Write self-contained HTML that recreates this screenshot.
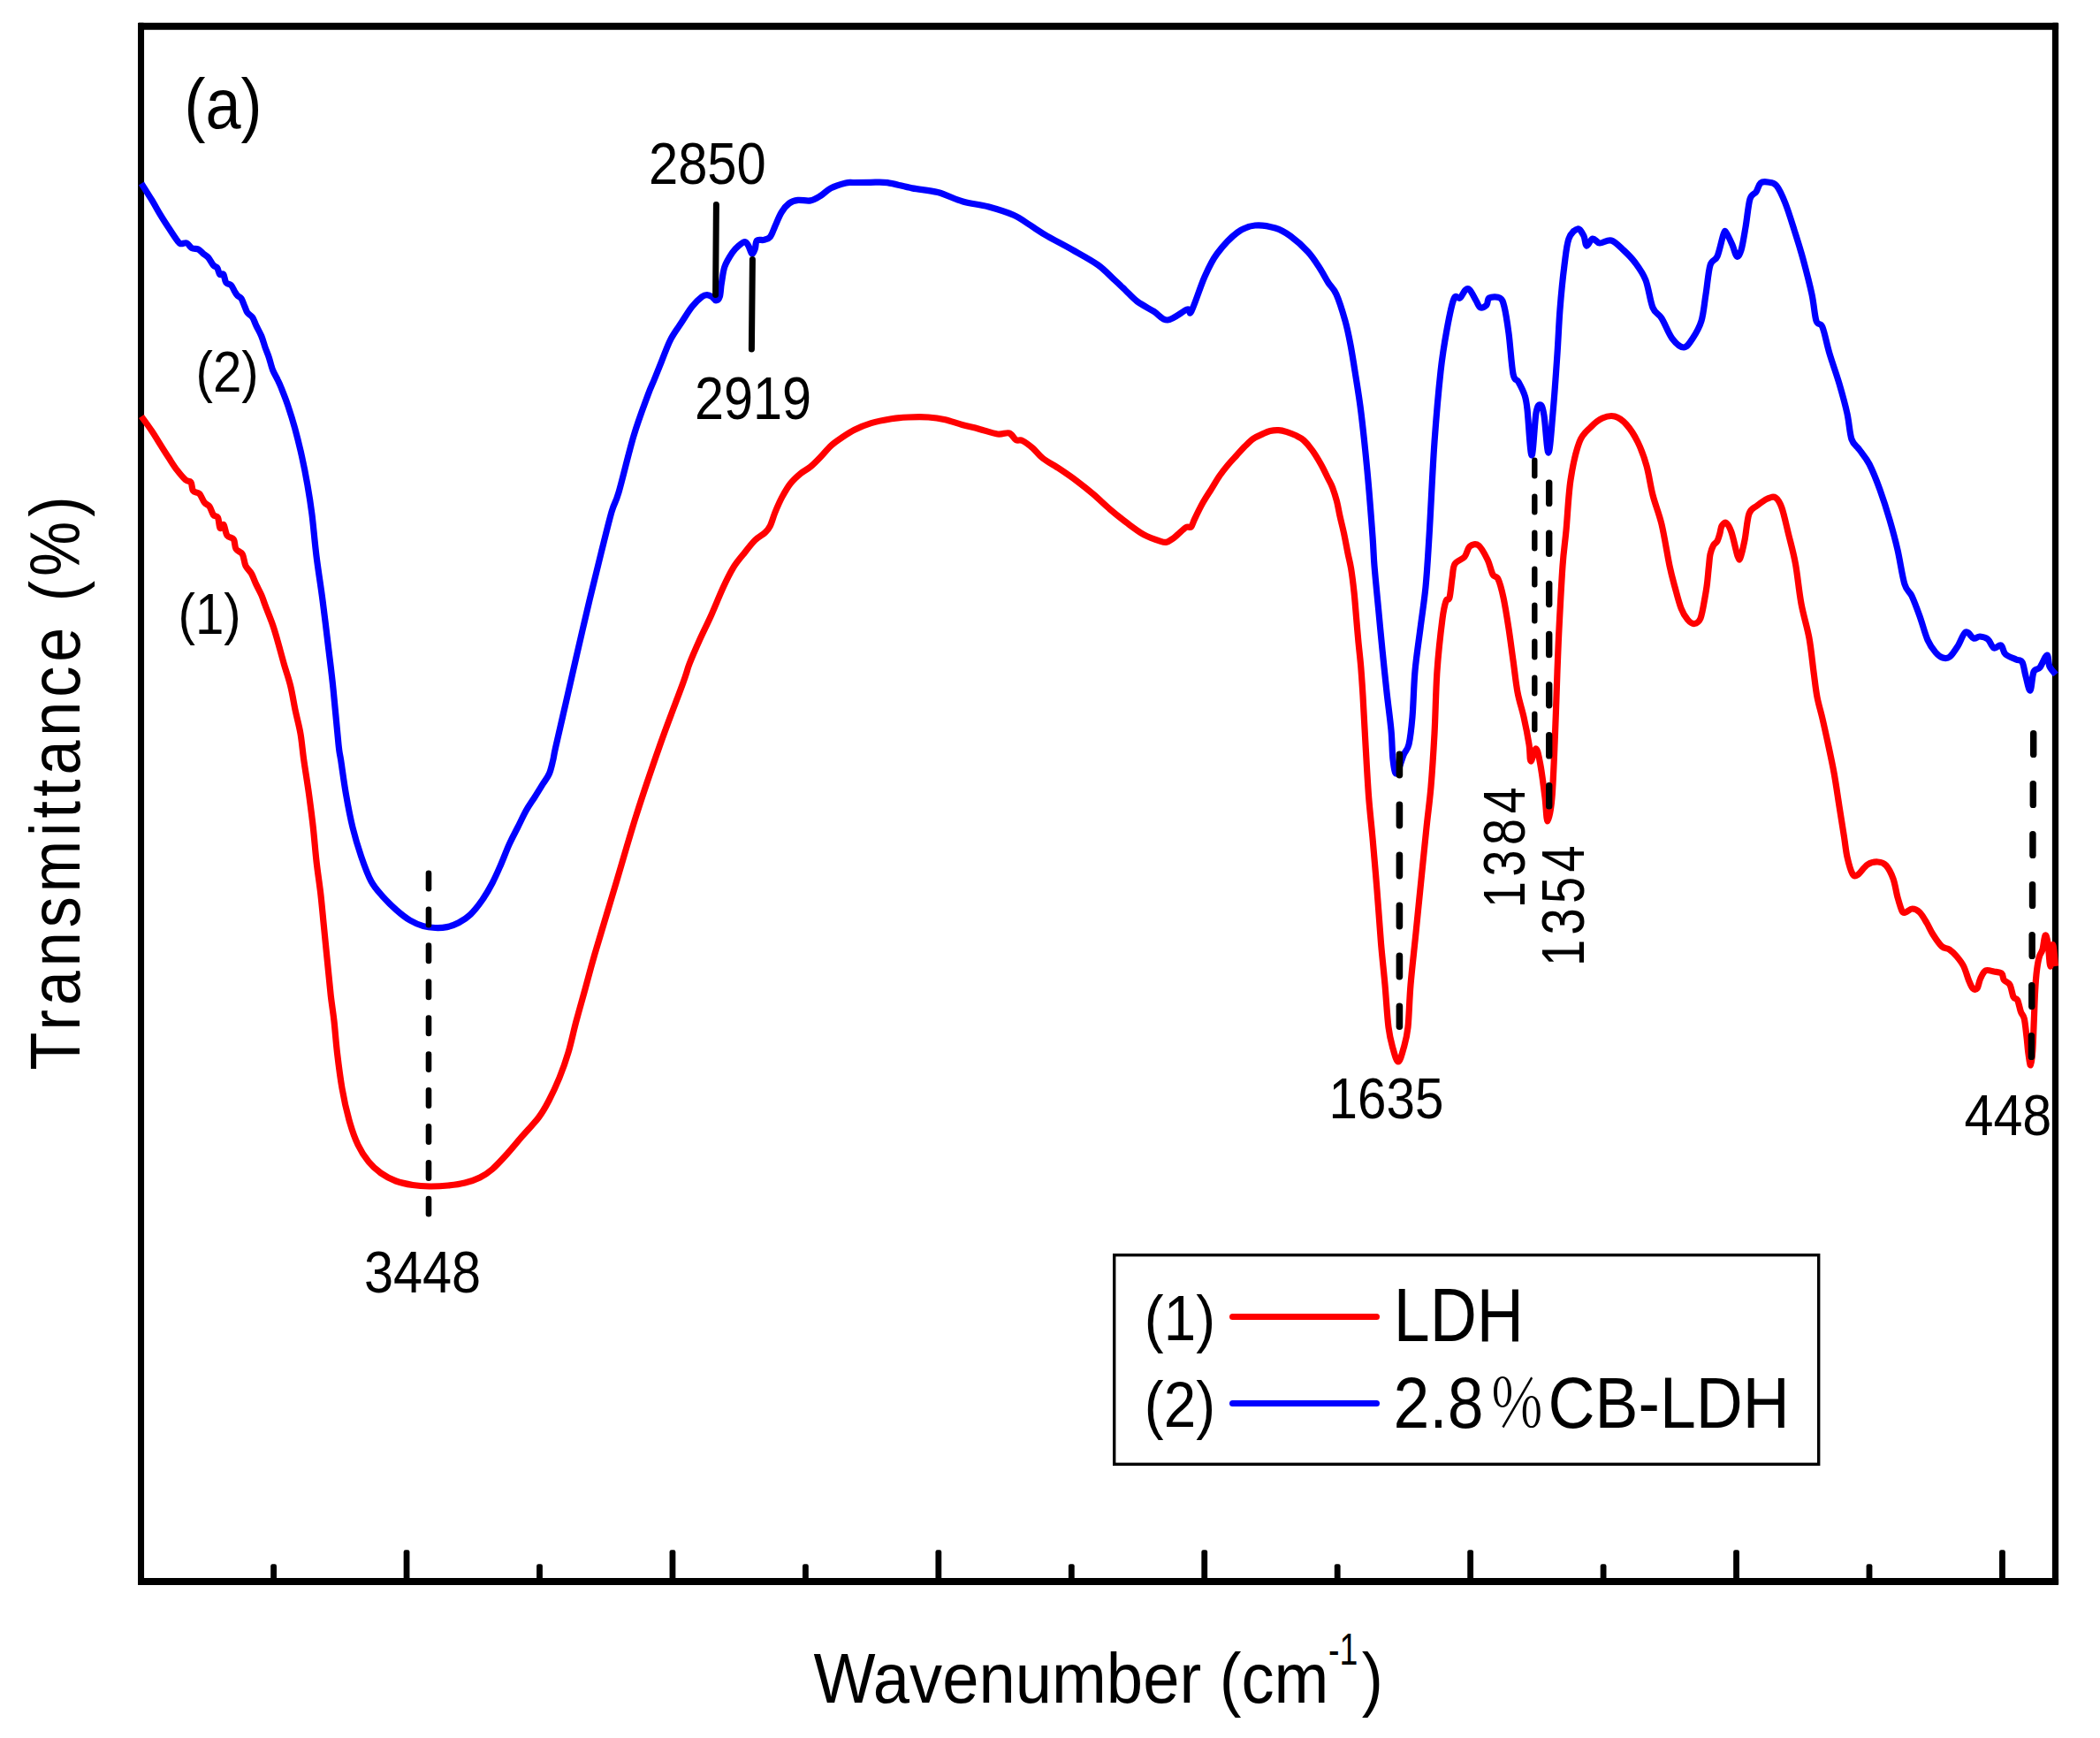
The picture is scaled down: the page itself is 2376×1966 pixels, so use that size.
<!DOCTYPE html>
<html lang="en"><head><meta charset="utf-8"><title>FTIR spectra</title>
<style>html,body{margin:0;padding:0;background:#fff}body{width:2376px;height:1966px;overflow:hidden}</style>
</head><body>
<svg width="2376" height="1966" viewBox="0 0 2376 1966" style="display:block">
<rect width="2376" height="1966" fill="#fff"/>
<g fill="#000">
<rect x="156" y="25.7" width="2173.1" height="8.1" rx="1"/>
<rect x="156" y="1785" width="2173.1" height="8" rx="1"/>
<rect x="156" y="25.7" width="7.05" height="1767.3" rx="1"/>
<rect x="2321.9" y="25.7" width="7.2" height="1767.3" rx="1"/>
<rect x="306.20" y="1769.3" width="6.8" height="20.7" rx="2.2"/>
<rect x="456.65" y="1753.3" width="6.8" height="36.7" rx="2.2"/>
<rect x="607.10" y="1769.3" width="6.8" height="20.7" rx="2.2"/>
<rect x="757.55" y="1753.3" width="6.8" height="36.7" rx="2.2"/>
<rect x="908.00" y="1769.3" width="6.8" height="20.7" rx="2.2"/>
<rect x="1058.45" y="1753.3" width="6.8" height="36.7" rx="2.2"/>
<rect x="1208.90" y="1769.3" width="6.8" height="20.7" rx="2.2"/>
<rect x="1359.35" y="1753.3" width="6.8" height="36.7" rx="2.2"/>
<rect x="1509.80" y="1769.3" width="6.8" height="20.7" rx="2.2"/>
<rect x="1660.25" y="1753.3" width="6.8" height="36.7" rx="2.2"/>
<rect x="1810.70" y="1769.3" width="6.8" height="20.7" rx="2.2"/>
<rect x="1961.15" y="1753.3" width="6.8" height="36.7" rx="2.2"/>
<rect x="2111.60" y="1769.3" width="6.8" height="20.7" rx="2.2"/>
<rect x="2262.05" y="1753.3" width="6.8" height="36.7" rx="2.2"/>
</g>
<rect x="1260.7" y="1419.7" width="797" height="236.6" stroke-width="3.4" stroke="#000" fill="none"/>
<g fill="none" stroke-linecap="butt" stroke-linejoin="round" stroke-width="7.2">
<path stroke="#f00" d="M160.0 471.0C161.9 473.7 167.8 481.7 171.4 487.0C175.0 492.3 178.1 497.6 181.4 502.9C184.7 508.2 188.3 513.9 191.4 518.6C194.5 523.4 196.9 527.4 200.0 531.4C203.1 535.4 207.3 540.5 210.0 542.9C212.7 545.2 214.6 543.5 216.0 545.5C217.4 547.5 216.9 553.0 218.5 555.2C220.1 557.4 223.5 556.4 225.7 558.6C227.8 560.8 229.5 566.2 231.4 568.6C233.3 571.0 235.3 570.6 237.0 572.9C238.7 575.2 239.8 580.4 241.4 582.5C243.0 584.6 245.2 583.0 246.5 585.5C247.8 588.0 247.9 596.2 249.0 597.5C250.1 598.8 251.7 592.1 253.0 593.5C254.3 594.9 255.1 603.0 257.0 605.7C258.9 608.5 262.6 607.5 264.3 610.0C266.0 612.5 265.3 618.2 267.0 621.0C268.7 623.8 272.5 623.8 274.3 627.0C276.1 630.2 276.2 636.4 277.9 640.0C279.6 643.6 282.3 645.0 284.3 648.6C286.3 652.2 288.1 657.4 290.0 661.4C291.9 665.4 294.0 669.0 295.7 672.9C297.4 676.8 297.9 678.8 300.0 684.5C302.1 690.2 306.2 700.1 308.6 707.0C311.0 713.9 312.2 718.3 314.3 725.7C316.4 733.1 319.0 743.1 321.4 751.4C323.8 759.7 326.5 766.9 328.6 775.7C330.8 784.5 332.4 795.2 334.3 804.3C336.2 813.3 338.4 820.7 340.0 830.0C341.6 839.3 342.2 848.7 343.8 860.0C345.4 871.3 347.8 885.3 349.5 898.0C351.2 910.7 352.9 923.3 354.3 936.0C355.7 948.7 356.6 961.3 358.0 974.0C359.4 986.7 361.4 999.2 362.9 1012.0C364.3 1024.8 365.4 1037.7 366.7 1050.5C368.0 1063.3 369.2 1075.9 370.5 1088.6C371.8 1101.3 373.1 1115.6 374.3 1126.7C375.6 1137.8 376.8 1144.3 378.0 1155.0C379.2 1165.7 380.0 1178.3 381.5 1191.0C383.0 1203.7 384.8 1218.3 387.0 1231.0C389.2 1243.7 392.0 1256.3 395.0 1267.0C398.0 1277.7 401.3 1287.2 405.0 1295.0C408.7 1302.8 412.7 1308.7 417.0 1314.0C421.3 1319.3 425.8 1323.3 431.0 1327.0C436.2 1330.7 442.0 1333.8 448.0 1336.0C454.0 1338.2 460.7 1339.5 467.0 1340.5C473.3 1341.5 479.3 1341.9 486.0 1342.0C492.7 1342.1 500.3 1341.7 507.0 1341.0C513.7 1340.3 520.0 1339.5 526.0 1338.0C532.0 1336.5 537.8 1334.6 543.0 1332.0C548.2 1329.4 551.8 1327.1 557.0 1322.6C562.2 1318.1 568.4 1311.2 574.0 1305.0C579.6 1298.8 584.6 1292.5 590.5 1285.7C596.4 1278.9 604.4 1270.8 609.5 1264.0C614.6 1257.2 617.1 1252.5 621.0 1245.0C624.9 1237.5 629.3 1228.1 633.0 1219.0C636.7 1209.9 639.8 1201.2 643.0 1190.5C646.2 1179.8 648.8 1166.9 652.0 1155.0C655.2 1143.1 658.5 1131.7 662.0 1119.0C665.5 1106.3 667.2 1099.0 673.0 1079.0C678.8 1059.0 689.2 1025.2 697.0 999.0C704.8 972.8 711.7 948.2 720.0 922.0C728.3 895.8 738.2 867.0 747.0 842.0C755.8 817.0 767.5 787.2 773.0 772.0C778.5 756.8 776.9 759.0 780.0 751.0C783.1 743.0 787.3 733.5 791.4 724.3C795.5 715.1 800.4 705.6 804.8 695.7C809.2 685.8 813.9 673.9 818.0 665.0C822.1 656.1 825.7 648.7 829.5 642.4C833.3 636.1 836.9 632.2 841.0 627.0C845.1 621.8 850.2 615.1 854.3 611.0C858.4 606.9 862.9 605.1 865.7 602.4C868.6 599.7 869.5 598.6 871.4 594.8C873.3 591.0 874.8 584.9 877.0 579.5C879.2 574.1 881.9 567.8 884.8 562.4C887.7 557.0 890.8 551.5 894.3 547.0C897.8 542.5 901.9 538.9 905.7 535.7C909.5 532.5 913.2 531.2 917.0 528.0C920.8 524.8 924.8 520.7 928.6 516.7C932.4 512.8 936.2 507.8 940.0 504.3C943.8 500.8 946.9 498.7 951.4 495.7C955.9 492.7 961.0 489.0 966.7 486.2C972.4 483.4 978.7 480.7 985.7 478.6C992.7 476.5 1001.6 474.9 1008.6 473.8C1015.6 472.7 1020.6 472.3 1027.6 472.0C1034.6 471.7 1043.5 471.5 1050.5 472.0C1057.5 472.5 1063.2 473.4 1069.5 474.8C1075.8 476.2 1082.2 478.8 1088.6 480.5C1094.9 482.2 1100.9 483.4 1107.6 485.2C1114.3 486.9 1122.9 490.2 1128.6 491.0C1134.3 491.8 1138.4 488.9 1141.9 490.0C1145.4 491.1 1147.0 496.2 1149.5 497.6C1152.0 499.0 1153.8 497.0 1157.0 498.6C1160.2 500.2 1164.8 503.7 1168.6 507.0C1172.4 510.3 1174.9 514.6 1180.0 518.5C1185.1 522.4 1192.7 526.3 1199.0 530.5C1205.3 534.7 1211.7 539.0 1218.0 543.8C1224.3 548.5 1230.7 553.6 1237.0 559.0C1243.3 564.4 1249.7 570.8 1256.0 576.2C1262.3 581.6 1268.6 586.6 1275.0 591.4C1281.4 596.2 1287.9 601.3 1294.3 604.8C1300.7 608.3 1309.0 611.0 1313.3 612.4C1317.6 613.8 1317.8 613.8 1320.0 613.3C1322.2 612.8 1324.6 610.9 1326.7 609.5C1328.8 608.1 1329.9 607.0 1332.4 604.8C1335.0 602.6 1339.5 598.0 1342.0 596.5C1344.5 595.0 1346.0 597.5 1347.6 596.0C1349.2 594.5 1349.2 592.2 1351.4 587.6C1353.6 583.0 1357.8 574.3 1361.0 568.6C1364.2 562.9 1367.3 558.4 1370.5 553.3C1373.7 548.2 1376.8 542.6 1380.0 538.0C1383.2 533.4 1386.3 529.5 1389.5 525.7C1392.7 521.9 1395.8 518.7 1399.0 515.2C1402.2 511.7 1405.4 508.0 1408.6 504.8C1411.8 501.6 1414.8 498.4 1418.0 496.2C1421.2 494.0 1424.4 492.8 1427.6 491.4C1430.8 490.0 1433.8 488.4 1437.0 487.6C1440.2 486.8 1443.5 486.5 1446.7 486.7C1449.9 486.9 1452.8 487.7 1456.0 488.6C1459.2 489.6 1462.5 490.8 1465.7 492.4C1468.9 494.0 1471.8 495.1 1475.0 498.0C1478.2 500.9 1481.6 505.0 1484.8 509.5C1488.0 514.0 1491.4 519.7 1494.3 524.8C1497.2 529.9 1499.8 535.6 1502.0 540.0C1504.2 544.4 1505.9 546.9 1507.6 551.4C1509.3 555.9 1511.0 561.3 1512.4 566.7C1513.8 572.1 1514.7 577.8 1516.0 583.8C1517.3 589.8 1519.0 596.0 1520.5 602.9C1522.0 609.8 1523.5 618.3 1524.8 625.0C1526.1 631.7 1527.4 635.6 1528.6 643.0C1529.8 650.4 1531.0 660.3 1532.0 669.5C1533.0 678.7 1533.7 688.5 1534.5 698.0C1535.3 707.5 1536.1 717.2 1537.0 726.7C1537.9 736.2 1539.0 745.0 1539.8 755.0C1540.6 765.0 1541.1 772.5 1542.0 787.0C1542.9 801.5 1543.9 823.2 1545.0 842.0C1546.1 860.8 1547.2 882.3 1548.5 900.0C1549.8 917.7 1551.4 930.2 1553.0 948.0C1554.6 965.8 1556.4 987.2 1558.0 1007.0C1559.6 1026.8 1561.0 1049.2 1562.5 1067.0C1564.0 1084.8 1565.6 1098.2 1567.0 1114.0C1568.4 1129.8 1569.5 1150.0 1571.0 1162.0C1572.5 1174.0 1574.2 1179.5 1576.0 1186.0C1577.8 1192.5 1580.0 1201.0 1582.0 1201.0C1584.0 1201.0 1586.2 1192.5 1588.0 1186.0C1589.8 1179.5 1591.7 1174.0 1593.0 1162.0C1594.3 1150.0 1594.5 1131.8 1596.0 1114.0C1597.5 1096.2 1600.0 1074.8 1602.0 1055.0C1604.0 1035.2 1606.0 1014.8 1608.0 995.0C1610.0 975.2 1612.2 953.5 1614.0 936.0C1615.8 918.5 1617.5 907.7 1619.0 890.0C1620.5 872.3 1621.8 851.8 1623.0 830.0C1624.2 808.2 1624.5 780.7 1626.0 759.0C1627.5 737.3 1630.3 713.2 1632.0 700.0C1633.7 686.8 1634.7 684.0 1636.0 680.0C1637.3 676.0 1638.8 680.3 1640.0 676.0C1641.2 671.7 1642.0 660.3 1643.0 654.0C1644.0 647.7 1643.7 642.0 1646.0 638.0C1648.3 634.0 1654.2 633.3 1657.0 630.0C1659.8 626.7 1660.3 620.2 1663.0 618.0C1665.7 615.8 1669.7 614.5 1673.0 617.0C1676.3 619.5 1680.3 627.5 1683.0 633.0C1685.7 638.5 1687.0 646.3 1689.0 650.0C1691.0 653.7 1693.0 650.7 1695.0 655.0C1697.0 659.3 1699.0 666.7 1701.0 676.0C1703.0 685.3 1705.2 699.2 1707.0 711.0C1708.8 722.8 1710.3 735.0 1712.0 747.0C1713.7 759.0 1715.0 772.3 1717.0 783.0C1719.0 793.7 1721.8 801.2 1724.0 811.0C1726.2 820.8 1728.7 833.7 1730.0 842.0C1731.3 850.3 1730.7 860.2 1732.0 861.0C1733.3 861.8 1736.2 846.2 1738.0 847.0C1739.8 847.8 1741.3 856.8 1743.0 866.0C1744.7 875.2 1746.7 891.5 1748.0 902.0C1749.3 912.5 1749.7 929.0 1751.0 929.0C1752.3 929.0 1754.6 918.5 1756.0 902.0C1757.4 885.5 1758.5 853.8 1759.5 830.0C1760.5 806.2 1761.2 778.8 1762.0 759.0C1762.8 739.2 1763.0 730.8 1764.0 711.0C1765.0 691.2 1766.7 658.5 1768.0 640.0C1769.3 621.5 1770.5 616.2 1772.0 600.0C1773.5 583.8 1774.5 559.7 1777.0 543.0C1779.5 526.3 1783.2 510.0 1787.0 500.0C1790.8 490.0 1795.7 487.5 1800.0 483.0C1804.3 478.5 1808.5 475.0 1813.0 473.0C1817.5 471.0 1822.5 469.8 1827.0 471.0C1831.5 472.2 1835.7 475.2 1840.0 480.0C1844.3 484.8 1849.2 492.2 1853.0 500.0C1856.8 507.8 1860.2 517.0 1863.0 527.0C1865.8 537.0 1867.2 549.0 1870.0 560.0C1872.8 571.0 1876.8 579.7 1880.0 593.0C1883.2 606.3 1886.5 628.2 1889.0 640.0C1891.5 651.8 1892.8 656.0 1895.0 664.0C1897.2 672.0 1899.6 681.8 1902.0 688.0C1904.4 694.2 1907.0 698.1 1909.5 701.0C1912.0 703.9 1914.6 705.8 1917.0 705.5C1919.4 705.2 1922.0 704.4 1924.0 699.5C1926.0 694.6 1927.8 682.6 1929.0 676.0C1930.2 669.4 1930.8 666.0 1931.5 660.0C1932.2 654.0 1932.9 645.5 1933.5 640.0C1934.1 634.5 1934.2 630.8 1935.0 627.0C1935.8 623.2 1937.2 619.5 1938.5 617.0C1939.8 614.5 1941.8 614.3 1943.0 612.0C1944.2 609.7 1945.2 605.8 1946.0 603.0C1946.8 600.2 1946.8 596.9 1948.0 595.0C1949.2 593.1 1951.2 590.3 1953.0 591.5C1954.8 592.7 1956.8 595.8 1959.0 602.0C1961.2 608.2 1964.3 624.2 1966.0 629.0C1967.7 633.8 1967.7 634.0 1969.0 631.0C1970.3 628.0 1972.3 619.3 1974.0 611.0C1975.7 602.7 1976.7 587.5 1979.0 581.0C1981.3 574.5 1984.5 574.8 1988.0 572.0C1991.5 569.2 1996.5 565.5 2000.0 564.0C2003.5 562.5 2006.3 561.2 2009.0 563.0C2011.7 564.8 2013.6 567.7 2016.0 574.5C2018.4 581.3 2020.9 593.4 2023.5 604.0C2026.1 614.6 2029.1 624.8 2031.5 638.0C2033.9 651.2 2035.4 669.0 2038.0 683.0C2040.6 697.0 2044.7 709.2 2047.0 722.0C2049.3 734.8 2050.5 748.9 2052.0 760.0C2053.5 771.1 2054.3 779.8 2056.0 788.6C2057.7 797.4 2060.0 804.4 2062.0 813.0C2064.0 821.6 2065.8 829.8 2068.0 840.0C2070.2 850.2 2072.8 862.0 2075.0 874.0C2077.2 886.0 2079.1 899.9 2081.0 912.0C2082.9 924.1 2085.0 937.1 2086.5 946.7C2088.0 956.3 2088.4 962.5 2090.0 969.5C2091.6 976.5 2094.0 985.3 2096.0 988.6C2098.0 991.9 2099.2 991.3 2102.0 989.5C2104.8 987.7 2109.2 980.4 2113.0 978.0C2116.8 975.6 2121.1 974.8 2124.6 975.0C2128.1 975.2 2131.1 975.8 2134.0 979.0C2136.9 982.2 2139.8 988.0 2142.0 994.0C2144.2 1000.0 2145.3 1008.9 2147.0 1015.0C2148.7 1021.1 2150.5 1027.7 2152.0 1030.5C2153.5 1033.3 2154.1 1032.4 2156.0 1032.0C2157.9 1031.6 2160.9 1028.0 2163.6 1028.0C2166.3 1028.0 2169.3 1029.3 2172.0 1032.0C2174.7 1034.7 2177.5 1039.8 2180.0 1044.0C2182.5 1048.2 2184.2 1052.6 2187.0 1057.0C2189.8 1061.4 2193.9 1067.7 2197.0 1070.5C2200.1 1073.3 2202.7 1072.1 2205.5 1074.0C2208.3 1075.9 2211.3 1078.8 2214.0 1082.0C2216.7 1085.2 2219.5 1088.6 2221.7 1093.0C2223.9 1097.4 2225.7 1104.4 2227.4 1108.6C2229.1 1112.8 2230.4 1116.4 2232.0 1118.0C2233.6 1119.6 2235.5 1119.9 2237.0 1118.0C2238.5 1116.1 2239.2 1110.0 2240.8 1106.7C2242.4 1103.4 2244.0 1099.3 2246.5 1098.0C2249.0 1096.7 2253.0 1098.5 2256.0 1099.0C2259.0 1099.5 2262.7 1099.4 2264.6 1101.0C2266.5 1102.6 2265.8 1106.4 2267.4 1108.6C2269.0 1110.8 2272.2 1110.8 2274.0 1114.0C2275.8 1117.2 2276.6 1124.7 2278.0 1127.6C2279.4 1130.5 2281.3 1128.5 2282.7 1131.4C2284.1 1134.3 2285.2 1141.3 2286.5 1144.8C2287.8 1148.3 2289.2 1147.7 2290.3 1152.4C2291.4 1157.1 2292.2 1166.4 2293.0 1173.0C2293.8 1179.6 2294.2 1186.7 2295.0 1192.0C2295.8 1197.3 2296.7 1205.4 2297.5 1204.8C2298.3 1204.2 2299.2 1197.1 2299.8 1188.6C2300.4 1180.1 2300.8 1165.4 2301.3 1154.0C2301.8 1142.6 2302.1 1129.5 2302.7 1120.0C2303.2 1110.5 2303.8 1103.3 2304.6 1097.0C2305.4 1090.7 2306.3 1085.8 2307.4 1082.0C2308.5 1078.2 2309.9 1078.0 2311.0 1074.0C2312.1 1070.0 2313.0 1059.2 2314.0 1058.0C2315.0 1056.8 2316.0 1060.9 2317.0 1066.7C2318.0 1072.5 2318.9 1092.7 2319.8 1093.0C2320.8 1093.3 2321.8 1068.6 2322.7 1068.6C2323.6 1068.6 2325.0 1088.9 2325.5 1093.0"/>
<path stroke="#00f" d="M160.0 207.5C161.9 210.5 167.8 219.8 171.4 225.7C175.0 231.6 178.1 237.4 181.4 242.9C184.7 248.4 188.3 253.9 191.4 258.6C194.5 263.4 197.8 268.5 200.0 271.4C202.2 274.2 202.4 275.1 204.3 275.7C206.2 276.3 209.3 274.2 211.4 275.0C213.5 275.8 214.8 279.5 217.0 280.7C219.2 281.9 222.1 280.9 224.3 282.0C226.5 283.1 228.1 285.4 230.0 287.0C231.9 288.6 233.8 289.2 235.7 291.4C237.6 293.6 239.7 298.1 241.4 300.0C243.1 301.9 244.5 301.2 245.7 302.9C246.9 304.6 247.4 308.9 248.6 310.2C249.8 311.5 251.7 308.9 252.9 310.5C254.1 312.1 254.3 317.5 255.7 319.5C257.1 321.5 259.7 320.8 261.4 322.5C263.1 324.2 264.5 328.0 265.7 330.0C266.9 332.0 267.4 333.1 268.6 334.3C269.8 335.6 271.5 335.4 272.9 337.5C274.3 339.6 275.8 344.3 277.0 347.0C278.2 349.7 278.6 351.8 280.0 353.8C281.4 355.8 284.0 356.5 285.7 359.0C287.4 361.5 288.3 365.1 290.0 368.6C291.7 372.1 294.0 375.9 295.7 380.0C297.4 384.1 298.6 388.8 300.0 392.9C301.4 396.9 302.9 400.0 304.3 404.3C305.7 408.6 306.9 414.3 308.6 418.6C310.3 422.9 312.8 426.8 314.3 430.0C315.9 433.2 316.0 433.2 317.9 438.0C319.8 442.8 323.1 450.9 325.7 458.6C328.3 466.3 331.0 474.8 333.6 484.3C336.2 493.8 339.0 505.0 341.4 515.7C343.8 526.4 346.0 537.7 347.9 548.6C349.8 559.5 351.2 568.0 352.9 581.4C354.6 594.8 356.0 612.7 358.0 629.0C360.0 645.3 362.7 661.2 365.0 679.0C367.3 696.8 370.0 719.3 372.0 736.0C374.0 752.7 375.2 761.3 377.0 779.0C378.8 796.7 381.6 828.5 383.0 842.0C384.4 855.5 384.3 850.7 385.7 860.0C387.1 869.3 389.2 885.3 391.4 898.0C393.6 910.7 396.1 924.2 399.0 936.0C401.9 947.8 405.1 958.4 408.6 968.6C412.1 978.8 415.9 989.4 420.0 997.0C424.1 1004.6 428.5 1008.9 433.3 1014.3C438.1 1019.7 443.5 1025.0 448.6 1029.5C453.7 1034.0 458.7 1038.0 463.8 1041.0C468.9 1044.0 474.2 1046.2 479.0 1047.6C483.8 1049.0 487.9 1049.3 492.4 1049.5C496.8 1049.7 501.3 1049.5 505.7 1048.6C510.1 1047.6 514.5 1046.2 519.0 1043.8C523.5 1041.4 527.9 1038.6 532.4 1034.3C536.9 1030.0 541.6 1023.9 545.7 1018.0C549.8 1012.1 553.5 1005.7 557.0 999.0C560.5 992.3 563.5 985.3 566.7 978.0C569.9 970.7 573.0 962.0 576.2 955.0C579.4 948.0 582.5 942.3 585.7 936.0C588.9 929.7 592.0 922.7 595.2 917.0C598.4 911.3 601.6 907.0 604.8 902.0C608.0 897.0 611.5 891.2 614.3 886.7C617.1 882.2 619.6 879.5 621.5 875.0C623.4 870.5 624.5 864.8 625.7 860.0C626.9 855.2 626.1 856.7 628.5 846.0C630.9 835.3 635.9 813.8 640.0 796.0C644.1 778.2 648.5 758.5 653.0 739.0C657.5 719.5 662.5 697.8 667.0 679.0C671.5 660.2 675.8 642.7 680.0 626.0C684.2 609.3 688.7 590.5 692.0 579.0C695.3 567.5 695.8 571.3 700.0 557.0C704.2 542.7 711.5 511.3 717.0 493.0C722.5 474.7 729.2 457.5 733.0 447.0C736.8 436.5 737.4 436.4 740.0 430.0C742.6 423.6 745.5 416.2 748.6 408.6C751.7 401.0 754.8 391.7 758.6 384.3C762.4 376.9 767.4 370.5 771.4 364.3C775.4 358.1 779.1 351.8 782.9 347.0C786.7 342.2 791.4 337.9 794.3 335.7C797.1 333.5 798.1 333.6 800.0 333.6C801.9 333.6 804.0 334.6 805.7 335.7C807.4 336.8 808.6 340.0 810.0 340.0C811.4 340.0 813.2 339.0 814.3 335.7C815.4 332.4 815.4 325.7 816.4 320.0C817.4 314.3 818.0 307.1 820.0 301.4C822.0 295.7 826.0 289.6 828.6 285.7C831.2 281.8 833.3 279.9 835.7 277.9C838.1 275.9 841.0 273.5 842.9 273.6C844.8 273.7 845.8 276.4 847.1 278.6C848.4 280.8 849.5 286.5 850.7 287.0C851.9 287.5 853.3 283.9 854.3 281.4C855.2 278.9 854.7 273.7 856.4 272.0C858.1 270.3 861.8 272.1 864.3 271.4C866.8 270.7 869.3 270.5 871.4 267.9C873.5 265.3 874.9 260.3 877.0 255.7C879.1 251.0 881.6 244.3 884.3 240.0C886.9 235.7 889.8 232.3 892.9 230.0C896.0 227.7 898.9 226.9 902.9 226.4C906.9 225.9 912.7 227.7 917.0 226.9C921.3 226.1 924.8 223.7 928.6 221.4C932.4 219.1 935.3 215.3 940.0 212.9C944.7 210.5 952.7 208.1 957.0 207.0C961.3 205.9 961.3 206.6 966.0 206.5C970.7 206.4 978.7 206.3 985.0 206.3C991.3 206.3 996.2 205.5 1004.0 206.6C1011.8 207.7 1022.5 211.1 1032.0 212.9C1041.5 214.7 1051.4 215.1 1061.0 217.6C1070.6 220.1 1080.0 225.3 1089.5 228.0C1099.0 230.7 1108.5 231.2 1118.0 233.8C1127.5 236.4 1138.8 239.8 1146.7 243.3C1154.7 246.8 1159.4 250.9 1165.7 254.8C1172.0 258.8 1176.9 262.4 1184.8 267.0C1192.7 271.6 1203.5 277.0 1213.0 282.4C1222.5 287.8 1234.0 293.8 1242.0 299.5C1250.0 305.2 1255.8 311.9 1261.0 316.7C1266.2 321.4 1268.7 323.9 1273.0 328.0C1277.3 332.1 1281.2 336.9 1286.7 341.0C1292.2 345.1 1300.0 348.9 1305.7 352.4C1311.4 355.9 1314.8 362.4 1321.0 362.0C1327.2 361.6 1338.5 351.7 1343.0 350.0C1347.5 348.3 1344.7 358.2 1348.0 352.0C1351.3 345.8 1358.2 323.8 1363.0 313.0C1367.8 302.2 1370.8 295.3 1377.0 287.0C1383.2 278.7 1392.8 268.3 1400.0 263.0C1407.2 257.7 1412.8 255.8 1420.0 255.0C1427.2 254.2 1436.3 256.0 1443.0 258.0C1449.7 260.0 1453.8 262.5 1460.0 267.0C1466.2 271.5 1474.5 279.0 1480.0 285.0C1485.5 291.0 1489.2 297.2 1493.0 303.0C1496.8 308.8 1499.8 315.0 1503.0 320.0C1506.2 325.0 1508.8 325.8 1512.0 333.0C1515.2 340.2 1519.3 353.5 1522.0 363.0C1524.7 372.5 1526.2 380.5 1528.0 390.0C1529.8 399.5 1531.0 407.2 1533.0 420.0C1535.0 432.8 1537.7 448.2 1540.0 467.0C1542.3 485.8 1544.8 509.7 1547.0 533.0C1549.2 556.3 1551.7 589.2 1553.0 607.0C1554.3 624.8 1553.9 626.5 1555.0 640.0C1556.1 653.5 1558.0 672.2 1559.5 688.0C1561.0 703.8 1562.4 719.2 1564.0 735.0C1565.6 750.8 1567.3 767.8 1569.0 783.0C1570.7 798.2 1572.8 813.3 1574.0 826.0C1575.2 838.7 1575.0 850.8 1576.0 859.0C1577.0 867.2 1578.0 875.8 1580.0 875.0C1582.0 874.2 1585.7 859.5 1588.0 854.0C1590.3 848.5 1592.3 849.2 1594.0 842.0C1595.7 834.8 1596.8 824.8 1598.0 811.0C1599.2 797.2 1599.5 775.7 1601.0 759.0C1602.5 742.3 1605.0 726.8 1607.0 711.0C1609.0 695.2 1611.3 681.3 1613.0 664.0C1614.7 646.7 1615.3 634.3 1617.0 607.0C1618.7 579.7 1620.8 531.2 1623.0 500.0C1625.2 468.8 1627.7 441.2 1630.0 420.0C1632.3 398.8 1634.5 386.7 1637.0 373.0C1639.5 359.3 1642.5 344.0 1645.0 338.0C1647.5 332.0 1649.8 338.7 1652.0 337.0C1654.2 335.3 1656.2 329.5 1658.0 328.0C1659.8 326.5 1661.0 326.0 1663.0 328.0C1665.0 330.0 1668.0 336.7 1670.0 340.0C1672.0 343.3 1673.0 347.2 1675.0 348.0C1677.0 348.8 1680.3 346.8 1682.0 345.0C1683.7 343.2 1682.5 338.3 1685.0 337.0C1687.5 335.7 1694.2 335.3 1697.0 337.0C1699.8 338.7 1700.3 340.3 1702.0 347.0C1703.7 353.7 1705.3 364.3 1707.0 377.0C1708.7 389.7 1710.2 413.8 1712.0 423.0C1713.8 432.2 1715.8 428.0 1718.0 432.0C1720.2 436.0 1723.3 441.8 1725.0 447.0C1726.7 452.2 1726.7 451.7 1728.0 463.0C1729.3 474.3 1731.3 514.3 1733.0 515.0C1734.7 515.7 1736.3 476.5 1738.0 467.0C1739.7 457.5 1741.5 457.5 1743.0 458.0C1744.5 458.5 1745.5 461.0 1747.0 470.0C1748.5 479.0 1750.3 512.5 1752.0 512.0C1753.7 511.5 1755.3 485.7 1757.0 467.0C1758.7 448.3 1760.7 419.5 1762.0 400.0C1763.3 380.5 1763.7 366.7 1765.0 350.0C1766.3 333.3 1768.3 313.3 1770.0 300.0C1771.7 286.7 1772.5 276.8 1775.0 270.0C1777.5 263.2 1782.2 259.5 1785.0 259.0C1787.8 258.5 1790.3 263.8 1792.0 267.0C1793.7 270.2 1793.3 277.5 1795.0 278.0C1796.7 278.5 1799.5 270.5 1802.0 270.0C1804.5 269.5 1806.5 274.7 1810.0 275.0C1813.5 275.3 1818.5 270.7 1823.0 272.0C1827.5 273.3 1832.5 278.8 1837.0 283.0C1841.5 287.2 1845.8 291.3 1850.0 297.0C1854.2 302.7 1858.7 308.5 1862.0 317.0C1865.3 325.5 1867.0 340.8 1870.0 348.0C1873.0 355.2 1876.3 354.2 1880.0 360.0C1883.7 365.8 1887.8 377.5 1892.0 383.0C1896.2 388.5 1901.2 393.0 1905.0 393.0C1908.8 393.0 1911.7 388.0 1915.0 383.0C1918.3 378.0 1922.5 371.3 1925.0 363.0C1927.5 354.7 1928.3 343.5 1930.0 333.0C1931.7 322.5 1932.8 307.2 1935.0 300.0C1937.2 292.8 1940.5 295.8 1943.0 290.0C1945.5 284.2 1948.3 269.5 1950.0 265.0C1951.7 260.5 1951.3 261.0 1953.0 263.0C1954.7 265.0 1958.0 272.5 1960.0 277.0C1962.0 281.5 1963.3 289.0 1965.0 290.0C1966.7 291.0 1968.3 288.5 1970.0 283.0C1971.7 277.5 1973.3 266.7 1975.0 257.0C1976.7 247.3 1978.0 231.7 1980.0 225.0C1982.0 218.3 1985.0 220.0 1987.0 217.0C1989.0 214.0 1989.8 208.8 1992.0 207.0C1994.2 205.2 1997.0 205.5 2000.0 206.0C2003.0 206.5 2006.7 206.0 2010.0 210.0C2013.3 214.0 2016.7 221.7 2020.0 230.0C2023.3 238.3 2026.7 249.5 2030.0 260.0C2033.3 270.5 2036.7 280.8 2040.0 293.0C2043.3 305.2 2047.5 321.3 2050.0 333.0C2052.5 344.7 2053.0 356.8 2055.0 363.0C2057.0 369.2 2059.5 363.8 2062.0 370.0C2064.5 376.2 2066.8 389.3 2070.0 400.0C2073.2 410.7 2077.7 422.7 2081.0 434.0C2084.3 445.3 2087.7 457.5 2090.0 468.0C2092.3 478.5 2092.7 490.2 2095.0 497.0C2097.3 503.8 2100.7 504.3 2104.0 509.0C2107.3 513.7 2111.2 517.5 2115.0 525.0C2118.8 532.5 2123.2 543.5 2127.0 554.0C2130.8 564.5 2134.7 576.7 2138.0 588.0C2141.3 599.3 2144.2 609.8 2147.0 622.0C2149.8 634.2 2152.3 652.3 2155.0 661.0C2157.7 669.7 2160.2 668.0 2163.0 674.0C2165.8 680.0 2169.0 688.7 2172.0 697.0C2175.0 705.3 2178.0 717.2 2181.0 724.0C2184.0 730.8 2187.2 734.7 2190.0 738.0C2192.8 741.3 2195.3 743.2 2198.0 744.0C2200.7 744.8 2203.2 745.2 2206.0 743.0C2208.8 740.8 2212.0 735.7 2215.0 731.0C2218.0 726.3 2221.0 716.5 2224.0 715.0C2227.0 713.5 2230.3 721.2 2233.0 722.0C2235.7 722.8 2237.3 719.8 2240.0 720.0C2242.7 720.2 2246.3 720.8 2249.0 723.0C2251.7 725.2 2253.5 731.8 2256.0 733.0C2258.5 734.2 2261.8 728.8 2264.0 730.0C2266.2 731.2 2266.2 737.3 2269.0 740.0C2271.8 742.7 2277.8 744.5 2281.0 746.0C2284.2 747.5 2286.2 745.8 2288.0 749.0C2289.8 752.2 2290.5 759.7 2292.0 765.0C2293.5 770.3 2295.5 781.8 2297.0 781.0C2298.5 780.2 2299.2 764.3 2301.0 760.0C2302.8 755.7 2305.5 758.2 2308.0 755.0C2310.5 751.8 2314.2 741.2 2316.0 741.0C2317.8 740.8 2317.3 750.3 2319.0 754.0C2320.7 757.7 2324.8 761.5 2326.0 763.0"/>
</g>
<g stroke="#000" stroke-width="7" stroke-linecap="round">
<line x1="810.4" y1="231.5" x2="809.6" y2="333.5"/>
<line x1="851.4" y1="293.5" x2="850.4" y2="395"/>
</g>
<g fill="#000">
<rect x="481.70" y="984.50" width="6.60" height="24.00" rx="3.3"/>
<rect x="481.70" y="1025.43" width="6.60" height="24.00" rx="3.3"/>
<rect x="481.70" y="1066.36" width="6.60" height="24.00" rx="3.3"/>
<rect x="481.70" y="1107.29" width="6.60" height="24.00" rx="3.3"/>
<rect x="481.70" y="1148.22" width="6.60" height="24.00" rx="3.3"/>
<rect x="481.70" y="1189.15" width="6.60" height="24.00" rx="3.3"/>
<rect x="481.70" y="1230.08" width="6.60" height="24.00" rx="3.3"/>
<rect x="481.70" y="1271.01" width="6.60" height="24.00" rx="3.3"/>
<rect x="481.70" y="1311.94" width="6.60" height="24.00" rx="3.3"/>
<rect x="481.70" y="1352.87" width="6.60" height="23.63" rx="3.3"/>
<rect x="1733.10" y="517.50" width="6.40" height="24.00" rx="3.2"/>
<rect x="1733.10" y="558.50" width="6.40" height="24.00" rx="3.2"/>
<rect x="1733.10" y="599.50" width="6.40" height="24.00" rx="3.2"/>
<rect x="1733.10" y="640.50" width="6.40" height="24.00" rx="3.2"/>
<rect x="1733.10" y="681.50" width="6.40" height="24.00" rx="3.2"/>
<rect x="1733.10" y="722.50" width="6.40" height="24.00" rx="3.2"/>
<rect x="1733.10" y="763.50" width="6.40" height="24.00" rx="3.2"/>
<rect x="1733.10" y="804.50" width="6.40" height="24.00" rx="3.2"/>
<rect x="1749.00" y="542.50" width="7.40" height="30.50" rx="3.6"/>
<rect x="1749.00" y="599.60" width="7.40" height="30.50" rx="3.6"/>
<rect x="1749.00" y="656.70" width="7.40" height="30.50" rx="3.6"/>
<rect x="1749.00" y="713.80" width="7.40" height="30.50" rx="3.6"/>
<rect x="1749.00" y="770.90" width="7.40" height="30.50" rx="3.6"/>
<rect x="1749.00" y="828.00" width="7.40" height="30.50" rx="3.6"/>
<rect x="1749.00" y="885.10" width="7.40" height="30.50" rx="3.6"/>
<rect x="1579.60" y="849.50" width="7.60" height="31.00" rx="3.7"/>
<rect x="1579.60" y="906.50" width="7.60" height="31.00" rx="3.7"/>
<rect x="1579.60" y="963.50" width="7.60" height="31.00" rx="3.7"/>
<rect x="1579.60" y="1020.50" width="7.60" height="31.00" rx="3.7"/>
<rect x="1579.60" y="1077.50" width="7.60" height="31.00" rx="3.7"/>
<rect x="1579.60" y="1134.50" width="7.60" height="30.50" rx="3.7"/>
<rect x="2297.00" y="826.00" width="7.40" height="31.00" rx="3.6"/>
<rect x="2296.61" y="883.00" width="7.40" height="31.00" rx="3.6"/>
<rect x="2296.23" y="940.00" width="7.40" height="31.00" rx="3.6"/>
<rect x="2295.85" y="997.00" width="7.40" height="31.00" rx="3.6"/>
<rect x="2295.47" y="1054.00" width="7.40" height="31.00" rx="3.6"/>
<rect x="2295.09" y="1111.00" width="7.40" height="31.00" rx="3.6"/>
<rect x="2294.70" y="1168.00" width="7.40" height="31.00" rx="3.6"/>
</g>
<g stroke-width="7" stroke-linecap="round">
<line x1="1394.5" y1="1489.5" x2="1557.5" y2="1489.5" stroke="#f00"/>
<line x1="1394.5" y1="1587.6" x2="1557.5" y2="1587.6" stroke="#00f"/>
</g>
<g fill="#000" font-family="'Liberation Sans', sans-serif">
<text transform="translate(208.58 145.43) scale(0.9073 1)" font-size="79.36">(a)</text>
<text transform="translate(221.51 442.53) scale(0.9015 1)" font-size="64.60">(2)</text>
<text transform="translate(201.51 717.22) scale(0.9075 1)" font-size="64.17">(1)</text>
<text transform="translate(733.91 208.23) scale(0.8865 1)" font-size="67.41">2850</text>
<text transform="translate(785.93 474.32) scale(0.8773 1)" font-size="67.75">2919</text>
<text transform="translate(411.92 1462.34) scale(0.8947 1)" font-size="66.43">3448</text>
<text transform="translate(1503.62 1264.85) scale(0.8907 1)" font-size="65.49">1635</text>
<text transform="translate(2222.41 1284.15) scale(0.9058 1)" font-size="65.45">448</text>
<text transform="translate(1294.87 1516.26) scale(0.9096 1)" font-size="72.09">(1)</text>
<text transform="translate(1294.87 1614.34) scale(0.9083 1)" font-size="72.19">(2)</text>
<text transform="translate(1576.71 1517.00) scale(0.8728 1)" font-size="84.35">LDH</text>
<text transform="translate(1576.53 1614.88) scale(0.8998 1)" font-size="81.54">2.8</text>
<text transform="translate(1751.53 1614.88) scale(0.8935 1)" font-size="82.11">CB-LDH</text>
<text transform="translate(920.50 1925.83) scale(0.9242 1)" font-size="80.32">Wavenumber (cm</text>
<text transform="translate(1503.00 1882.90) scale(0.7541 1)" font-size="49.71">-1</text>
<text transform="translate(1540.64 1925.83) scale(0.8992 1)" font-size="80.32">)</text>
<text transform="translate(1683.97 1613.10) scale(0.8541 1)" font-size="75.82" font-family="'Noto Serif CJK SC', 'Liberation Serif', serif">％</text>
<text transform="translate(1725.03 1027.04) rotate(-90) scale(0.8000 1)" font-size="67.27" letter-spacing="7.05">1384</text>
<text transform="translate(1792.32 1093.06) rotate(-90) scale(0.8000 1)" font-size="67.61" letter-spacing="6.81">1354</text>
<text transform="translate(89.69 1210.60) rotate(-90) scale(0.8700 1)" font-size="80.53" letter-spacing="5.71">Transmittance (%)</text>
</g>
</svg>
</body></html>
